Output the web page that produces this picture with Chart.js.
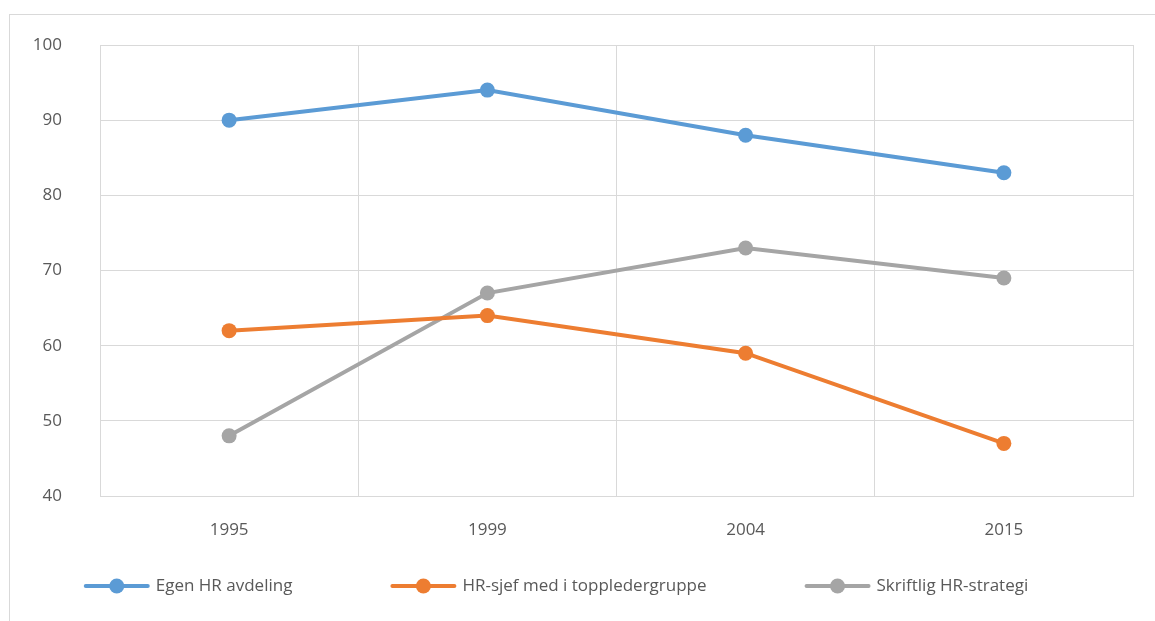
<!DOCTYPE html>
<html lang="no">
<head>
  <meta charset="UTF-8" />
  <title>HR-funksjon 1995-2015</title>
  <style>
    html, body { margin: 0; padding: 0; background: #fff; overflow: hidden; }
    #wrap { position: relative; width: 1155px; height: 621px; }
    #frame { position: absolute; left: 9px; top: 14px; width: 1200px; height: 700px; border: 1px solid #d9d9d9; }
    canvas { position: absolute; left: 0; top: 0; }
  </style>
</head>
<body>
  <div id="wrap">
    <div id="frame"></div>
    <canvas id="chart" width="1155" height="621"></canvas>
  </div>

  <script src="https://cdn.jsdelivr.net/npm/chart.js"></script>
  <script>
    // data
    const years = ["1995", "1999", "2004", "2015"];
    const egenHR = [90, 94, 88, 83];
    const hrSjef = [62, 64, 59, 47];
    const hrStrategi = [48, 67, 73, 69];
    const seriesNames = ["Egen HR avdeling", "HR-sjef med i toppledergruppe", "Skriftlig HR-strategi"];
    const colors = ["#5b9bd5", "#ed7d31", "#a5a5a5"];

    const FONT = "'Open Sans', 'Liberation Sans', sans-serif";
    const textColor = "#595959";
    const gridColor = "#d9d9d9";

    // Excel style legend below the plot: line with dot, then label
    const bottomLegend = {
      id: "bottomLegend",
      afterDraw(chart) {
        const ctx = chart.ctx;
        const y = 586, symW = 66, gap = 98, txtGap = 6;
        ctx.save();
        ctx.font = "17px " + FONT;
        const items = chart.data.datasets.map(d => ({ d, w: symW + txtGap + ctx.measureText(d.label).width }));
        const total = items.reduce((a, it) => a + it.w, 0) + gap * (items.length - 1);
        let x = 556 - total / 2;
        items.forEach(it => {
          const col = it.d.borderColor;
          ctx.strokeStyle = col; ctx.lineWidth = 4; ctx.lineCap = "round";
          ctx.beginPath(); ctx.moveTo(x + 2, y); ctx.lineTo(x + symW - 2, y); ctx.stroke();
          ctx.fillStyle = col;
          ctx.beginPath(); ctx.arc(x + symW / 2, y, 7.5, 0, Math.PI * 2); ctx.fill();
          ctx.fillStyle = textColor;
          ctx.textBaseline = "middle";
          ctx.fillText(it.d.label, x + symW + txtGap, y);
          x += it.w + gap;
        });
        ctx.restore();
      }
    };

    const mk = (i, data) => ({
      label: seriesNames[i],
      data,
      borderColor: colors[i],
      backgroundColor: colors[i],
      borderWidth: 4,
      pointRadius: 7.5,
      pointHoverRadius: 7.5,
      pointBorderWidth: 0,
      pointStyle: "circle",
      tension: 0
    });

    new Chart(document.getElementById("chart"), {
      type: "line",
      data: {
        labels: years,
        datasets: [mk(0, egenHR), mk(1, hrSjef), mk(2, hrStrategi)]
      },
      plugins: [bottomLegend],
      options: {
        responsive: false,
        animation: false,
        events: [],
        layout: { padding: { left: 10, right: 22, top: 45, bottom: 63 } },
        scales: {
          x: {
            offset: true,
            grid: { color: gridColor, lineWidth: 1, offset: true, drawTicks: false },
            border: { color: gridColor, width: 1 },
            ticks: { color: textColor, font: { family: FONT, size: 17 }, padding: 24 },
            afterFit: s => { s.height = 62; }
          },
          y: {
            min: 40, max: 100,
            grid: { color: gridColor, lineWidth: 1, drawTicks: false },
            border: { color: gridColor, width: 1 },
            ticks: { stepSize: 10, color: textColor, font: { family: FONT, size: 17 }, padding: 38 },
            afterFit: s => { s.width = 90; s.paddingTop = 0; s.paddingBottom = 0; }
          }
        },
        plugins: {
          tooltip: { enabled: false },
          legend: { display: false }
        }
      }
    });
  </script>
</body>
</html>
